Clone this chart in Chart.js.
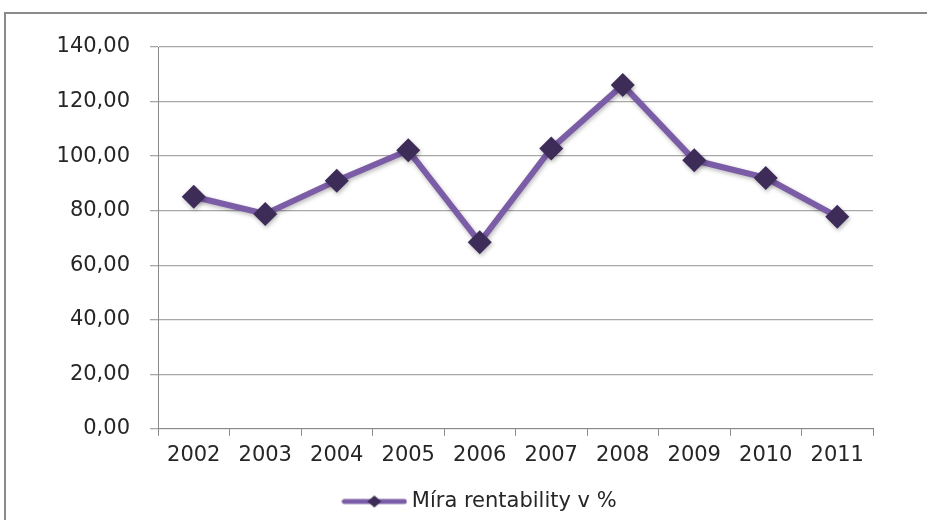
<!DOCTYPE html>
<html>
<head>
<meta charset="utf-8">
<script src="https://cdn.jsdelivr.net/npm/chart.js@4/dist/chart.umd.min.js"></script>
<style>
  html, body { margin: 0; padding: 0; background: #ffffff; }
  #wrap { width: 927px; height: 520px; }
</style>
</head>
<body>
<div id="wrap"><canvas id="c" width="927" height="520"></canvas></div>
<script>
// Roky a míra rentability v %
const years = ['2002', '2003', '2004', '2005', '2006', '2007', '2008', '2009', '2010', '2011'];
const rentability = [85.1, 78.8, 91.0, 102.1, 68.4, 102.8, 126.1, 98.5, 92.0, 77.8];
const seriesName = 'Míra rentability v %';
const yMin = 0, yMax = 140, yStep = 20;

const lineColor = '#7b5ca6';
const markerColor = '#3e2c58';
const textColor = '#262626';
const gridColor = '#a8a8a8';
const axisColor = '#8a8a8a';
const fontFamily = 'DejaVu Sans';

// Legend symbol: line with a diamond in the middle
const legendSymbol = document.createElement('canvas');
legendSymbol.width = 66; legendSymbol.height = 16;
(function () {
  const g = legendSymbol.getContext('2d');
  g.strokeStyle = lineColor; g.lineWidth = 5; g.lineCap = 'round';
  g.beginPath(); g.moveTo(3, 8); g.lineTo(63, 8); g.stroke();
  g.fillStyle = markerColor;
  g.beginPath(); g.moveTo(33 - 7, 8); g.lineTo(33, 2); g.lineTo(33 + 7, 8); g.lineTo(33, 14); g.closePath(); g.fill();
})();

// Outer frame of the chart
const framePlugin = {
  id: 'frame',
  beforeDraw(chart) {
    const ctx = chart.ctx;
    ctx.save();
    ctx.strokeStyle = axisColor;
    ctx.lineWidth = 2;
    ctx.beginPath();
    ctx.moveTo(5, 521); ctx.lineTo(5, 13); ctx.lineTo(928, 13);
    ctx.stroke();
    ctx.restore();
  }
};

// Legend is centred a little right of the canvas middle and sits low
const legendShift = {
  id: 'legendShift',
  afterLayout(chart) {
    const lg = chart.legend;
    if (!lg) return;
    const shift = 482 - (lg.left + lg.right) / 2;
    lg.left += shift;
    lg.right += shift;
    lg.top += 2;
    lg.bottom += 2;
  }
};

// Soft shadow under the line and markers
const shadowPlugin = {
  id: 'softShadow',
  beforeDatasetsDraw(chart) {
    const ctx = chart.ctx;
    ctx.save();
    ctx.shadowColor = 'rgba(0,0,0,0.28)';
    ctx.shadowBlur = 4;
    ctx.shadowOffsetX = 1;
    ctx.shadowOffsetY = 2;
  },
  afterDatasetsDraw(chart) { chart.ctx.restore(); }
};

const fmt = v => Number(v).toFixed(2).replace('.', ',');

new Chart(document.getElementById('c'), {
  type: 'line',
  data: {
    labels: years,
    datasets: [{
      label: seriesName,
      data: rentability,
      borderColor: lineColor,
      borderWidth: 6,
      pointStyle: 'rectRot',
      pointRadius: 12,
      pointHoverRadius: 12,
      pointBackgroundColor: markerColor,
      pointBorderColor: markerColor,
      pointBorderWidth: 0,
      tension: 0,
      fill: false
    }]
  },
  options: {
    responsive: false,
    animation: false,
    devicePixelRatio: 1,
    layout: { padding: { left: 20, right: 54, top: 47, bottom: 0 } },
    plugins: {
      title: { display: false },
      tooltip: { enabled: false },
      legend: {
        display: true,
        position: 'bottom',
        labels: {
          usePointStyle: true,
          pointStyle: legendSymbol,
          pointStyleWidth: 54,
          boxHeight: 16,
          color: textColor,
          padding: 14,
          font: { family: fontFamily, size: 21 }
        }
      }
    },
    scales: {
      x: {
        offset: true,
        grid: {
          offset: true,
          drawOnChartArea: false,
          drawTicks: true,
          tickLength: 7,
          color: axisColor,
          lineWidth: 1
        },
        border: { display: true, color: axisColor, width: 1 },
        ticks: {
          color: textColor,
          padding: 7,
          maxRotation: 0,
          font: { family: fontFamily, size: 21 }
        }
      },
      y: {
        min: yMin,
        max: yMax,
        afterFit(scale) { scale.width = 138; },
        grid: {
          color: gridColor,
          lineWidth: 1.3,
          drawTicks: true,
          tickLength: 8
        },
        border: { display: true, color: axisColor, width: 1 },
        ticks: {
          stepSize: yStep,
          color: textColor,
          padding: 20,
          callback: v => fmt(v),
          font: { family: fontFamily, size: 21 }
        }
      }
    }
  },
  plugins: [framePlugin, legendShift, shadowPlugin]
});
</script>
</body>
</html>
